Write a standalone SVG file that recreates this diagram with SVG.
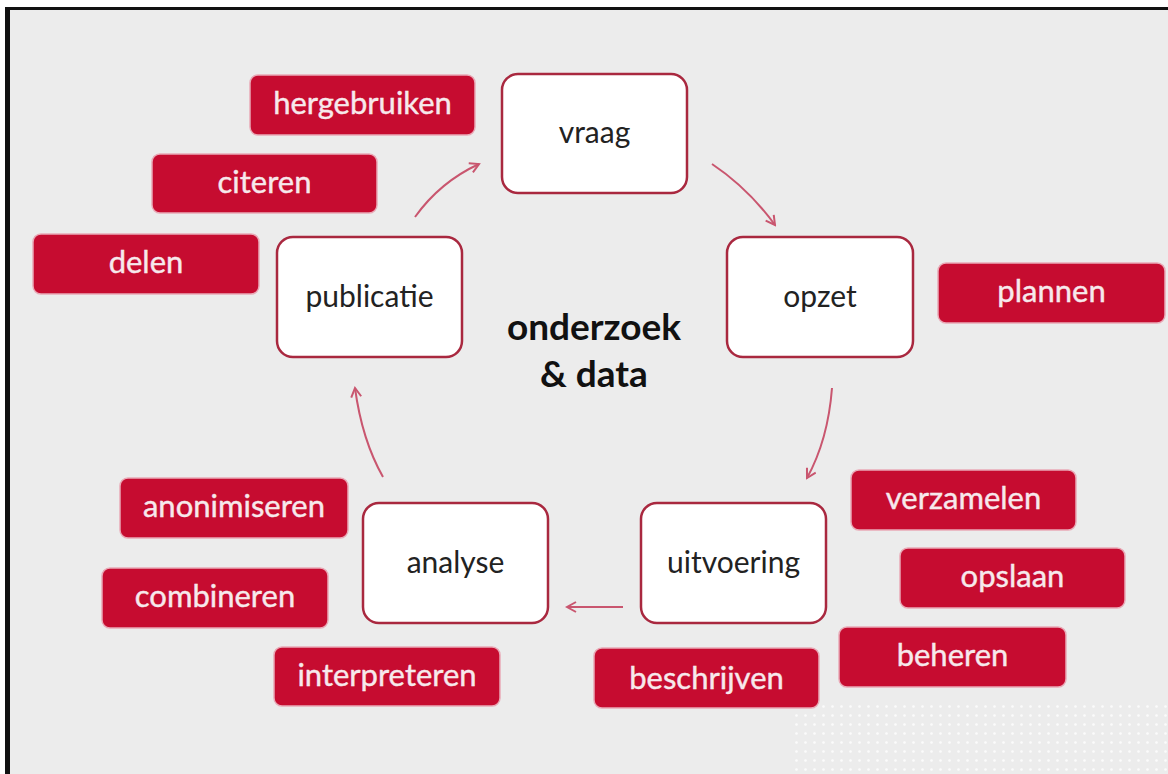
<svg xmlns="http://www.w3.org/2000/svg" width="1168" height="774" viewBox="0 0 1168 774">
<defs>
<style>
.tag rect{fill:#c60c30;stroke:#e9a9b6;stroke-width:1.5}
.tag text{fill:#f7e9ec;stroke:#f7e9ec;stroke-width:0.4;font-family:Lato,"Open Sans","DejaVu Sans",sans-serif;font-size:31px;text-anchor:middle}
.node rect{fill:#ffffff;stroke:#a9283f;stroke-width:2.5}
.node text{fill:#222222;font-family:Lato,"Open Sans","DejaVu Sans",sans-serif;font-size:30px;text-anchor:middle}
.conn path{fill:none;stroke:#c9566f;stroke-width:2;marker-end:url(#ah)}
.title{fill:#111111;font-family:Lato,"Open Sans","DejaVu Sans",sans-serif;font-size:37px;font-weight:bold;text-anchor:middle}
</style>
<marker id="ah" viewBox="0 0 12 12" refX="10" refY="6" markerWidth="12" markerHeight="12" markerUnits="userSpaceOnUse" orient="auto">
<path d="M1,1 L10,6 L1,11" fill="none" stroke="#c9566f" stroke-width="2"/>
</marker>
<pattern id="dots" width="9" height="9" patternUnits="userSpaceOnUse">
<circle cx="4.5" cy="4.5" r="1.3" fill="#ffffff" opacity="0.8"/>
</pattern>
</defs>
<rect x="0" y="0" width="1168" height="774" fill="#ffffff"/>
<rect x="5" y="7" width="1163" height="767" fill="#111111"/>
<rect x="10" y="10" width="1158" height="764" fill="#ececec"/>
<rect x="790" y="705" width="378" height="69" fill="url(#dots)"/>

<g id="connectors" class="conn">
<path d="M415,217 Q440,182 479,164"/>
<path d="M712,164 Q748,188 775,225"/>
<path d="M832,388 Q828,440 807,478"/>
<path d="M623,607 L567,607"/>
<path d="M383,477 Q362,440 355,388"/>
</g>

<g id="node-vraag" class="node"><rect x="502" y="74" width="185" height="119" rx="16"/><text x="594.5" y="143">vraag</text></g>
<g id="node-opzet" class="node"><rect x="727" y="237" width="186" height="120" rx="16"/><text x="820" y="307">opzet</text></g>
<g id="node-uitvoering" class="node"><rect x="641" y="503" width="185" height="120" rx="16"/><text x="733.5" y="573">uitvoering</text></g>
<g id="node-analyse" class="node"><rect x="363" y="503" width="185" height="120" rx="16"/><text x="455.5" y="573">analyse</text></g>
<g id="node-publicatie" class="node"><rect x="277" y="237" width="185" height="120" rx="16"/><text x="369.5" y="307">publicatie</text></g>

<g id="center-label"><text class="title" x="594" y="340">onderzoek</text><text class="title" x="594" y="387">&amp; data</text></g>

<g id="tag-hergebruiken" class="tag"><rect x="250" y="75" width="225" height="60" rx="8"/><text x="362.5" y="114">hergebruiken</text></g>
<g id="tag-citeren" class="tag"><rect x="152" y="154" width="225" height="59" rx="8"/><text x="264.5" y="193">citeren</text></g>
<g id="tag-delen" class="tag"><rect x="33" y="234" width="226" height="60" rx="8"/><text x="146" y="273">delen</text></g>
<g id="tag-plannen" class="tag"><rect x="938" y="263" width="227" height="60" rx="8"/><text x="1051.5" y="302">plannen</text></g>
<g id="tag-verzamelen" class="tag"><rect x="851" y="470" width="225" height="60" rx="8"/><text x="963.5" y="509">verzamelen</text></g>
<g id="tag-opslaan" class="tag"><rect x="900" y="548" width="225" height="60" rx="8"/><text x="1012.5" y="587">opslaan</text></g>
<g id="tag-beheren" class="tag"><rect x="839" y="627" width="227" height="60" rx="8"/><text x="952.5" y="666">beheren</text></g>
<g id="tag-beschrijven" class="tag"><rect x="594" y="648" width="225" height="60" rx="8"/><text x="706.5" y="689">beschrijven</text></g>
<g id="tag-anonimiseren" class="tag"><rect x="120" y="478" width="228" height="60" rx="8"/><text x="234" y="517">anonimiseren</text></g>
<g id="tag-combineren" class="tag"><rect x="102" y="568" width="226" height="60" rx="8"/><text x="215" y="607">combineren</text></g>
<g id="tag-interpreteren" class="tag"><rect x="274" y="647" width="226" height="59" rx="8"/><text x="387" y="686">interpreteren</text></g>
</svg>
